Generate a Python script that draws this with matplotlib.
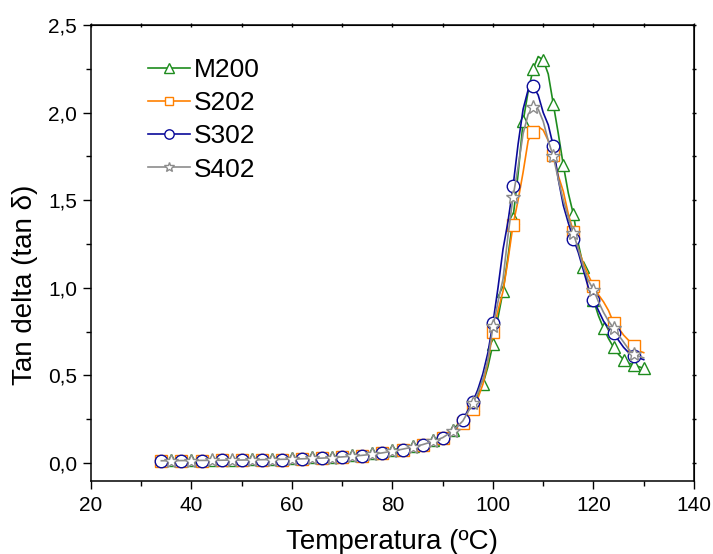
import matplotlib
matplotlib.use("Agg")
import matplotlib.pyplot as plt
from matplotlib.ticker import MultipleLocator, FuncFormatter

plt.rcParams['font.family'] = ['Liberation Sans', 'DejaVu Sans']

# temperature grid (ºC): 2 degree steps below 95, 1 degree steps above
temp = [34, 36, 38, 40, 42, 44, 46, 48, 50, 52, 54, 56, 58, 60, 62, 64,
        66, 68, 70, 72, 74, 76, 78, 80, 82, 84, 86, 88, 90, 92, 94,
        95, 96, 97, 98, 99, 100, 101, 102, 103, 104, 105, 106, 107, 108,
        109, 110, 111, 112, 113, 114, 115, 116, 117, 118, 119, 120, 121,
        122, 123, 124, 125, 126, 127, 128, 129, 130]

m200 = [0.015, 0.016, 0.016, 0.017, 0.017, 0.018, 0.019, 0.020, 0.021, 0.022,
        0.023, 0.025, 0.026, 0.028, 0.030, 0.032, 0.034, 0.036, 0.040, 0.043,
        0.048, 0.055, 0.064, 0.075, 0.086, 0.098, 0.112, 0.130, 0.155, 0.190,
        0.250,
        0.29, 0.33, 0.39, 0.45, 0.55, 0.68, 0.83, 0.98, 1.18, 1.40, 1.65,
        1.95, 2.12, 2.25, 2.32, 2.30, 2.22, 2.05, 1.88, 1.70, 1.54, 1.42,
        1.25, 1.12, 1.02, 0.93, 0.84, 0.77, 0.71, 0.66, 0.62, 0.59, 0.57,
        0.56, 0.55, 0.54]

s202 = [0.012, 0.012, 0.013, 0.013, 0.014, 0.014, 0.015, 0.016, 0.016, 0.017,
        0.018, 0.019, 0.020, 0.021, 0.023, 0.025, 0.027, 0.029, 0.033, 0.037,
        0.042, 0.048, 0.056, 0.066, 0.077, 0.089, 0.103, 0.120, 0.140, 0.175,
        0.230,
        0.27, 0.31, 0.37, 0.45, 0.58, 0.75, 0.87, 0.98, 1.16, 1.36, 1.50,
        1.66, 1.84, 1.89, 1.92, 1.90, 1.84, 1.76, 1.64, 1.55, 1.42, 1.32,
        1.22, 1.14, 1.07, 1.01, 0.96, 0.92, 0.87, 0.80, 0.77, 0.73, 0.70,
        0.67, 0.64, 0.63]

s302 = [0.012, 0.012, 0.013, 0.013, 0.014, 0.014, 0.015, 0.016, 0.016, 0.017,
        0.018, 0.019, 0.020, 0.021, 0.023, 0.025, 0.027, 0.029, 0.033, 0.037,
        0.042, 0.048, 0.056, 0.066, 0.077, 0.089, 0.103, 0.120, 0.142, 0.180,
        0.245,
        0.30, 0.35, 0.42, 0.51, 0.63, 0.80, 1.00, 1.22, 1.38, 1.58, 1.82,
        2.02, 2.13, 2.15, 2.10, 2.00, 1.93, 1.81, 1.62, 1.47, 1.37, 1.28,
        1.20, 1.10, 1.00, 0.93, 0.87, 0.81, 0.77, 0.74, 0.70, 0.66, 0.63,
        0.61, 0.60, 0.59]

s402 = [0.013, 0.013, 0.014, 0.014, 0.015, 0.015, 0.016, 0.017, 0.017, 0.018,
        0.019, 0.020, 0.021, 0.022, 0.024, 0.026, 0.028, 0.031, 0.035, 0.039,
        0.044, 0.050, 0.058, 0.068, 0.079, 0.091, 0.105, 0.123, 0.145, 0.182,
        0.240,
        0.29, 0.34, 0.40, 0.48, 0.59, 0.78, 0.92, 1.05, 1.30, 1.52, 1.69,
        1.88, 1.99, 2.03, 2.02, 1.95, 1.84, 1.75, 1.62, 1.50, 1.40, 1.31,
        1.22, 1.12, 1.04, 0.99, 0.92, 0.86, 0.81, 0.77, 0.73, 0.69, 0.65,
        0.62, 0.61, 0.60]

labels = ["M200", "S202", "S302", "S402"]
series = [m200, s202, s302, s402]
colors = ["#1e8c1e", "#ff8000", "#0a0a9a", "#8c8c8c"]
markers = ["^", "s", "o", "*"]
msizes = [9, 8, 9, 10]
# marker pattern: (offset in low region, step in 1-degree region)
mark_cfg = [(1, 2), (0, 4), (0, 4), (1, 4)]

fig = plt.figure(figsize=(7.13, 5.54), dpi=100)
ax = fig.add_axes([0.1276, 0.1326, 0.8457, 0.8223])

n_low = sum(1 for t in temp if t < 95)
for y, lab, c, m, ms, (off, step) in zip(series, labels, colors, markers, msizes, mark_cfg):
    idx = [i for i in range(n_low) if i % 2 == off]
    idx += [i for i in range(n_low, len(temp)) if temp[i] >= 96 and (temp[i] - 96) % step == 0]
    ax.plot(temp, y, color=c, lw=1.2, marker=m, markersize=ms, markevery=idx,
            markerfacecolor="white", markeredgecolor=c, markeredgewidth=1.0,
            label=lab)

ax.set_xlim(20, 140)
ax.set_ylim(-0.1, 2.5)
ax.xaxis.set_major_locator(MultipleLocator(20))
ax.xaxis.set_minor_locator(MultipleLocator(10))
ax.yaxis.set_major_locator(MultipleLocator(0.5))
ax.yaxis.set_minor_locator(MultipleLocator(0.25))
ax.yaxis.set_major_formatter(FuncFormatter(lambda v, p: f"{v:.1f}".replace(".", ",")))

ax.tick_params(axis="both", which="major", direction="out", length=6, width=1,
               labelsize=15, pad=4)
ax.tick_params(axis="both", which="minor", direction="out", length=3.5, width=1)
ax.tick_params(axis="x", which="major", pad=5)
for s in ax.spines.values():
    s.set_linewidth(1.1)

# short ticks on top and right, no labels
top = ax.secondary_xaxis("top")
top.xaxis.set_major_locator(MultipleLocator(20))
top.xaxis.set_minor_locator(MultipleLocator(10))
top.tick_params(which="both", direction="inout", length=3, width=1, labeltop=False)
right = ax.secondary_yaxis("right")
right.yaxis.set_major_locator(MultipleLocator(0.5))
right.yaxis.set_minor_locator(MultipleLocator(0.25))
right.tick_params(which="both", direction="inout", length=3, width=1, labelright=False)

ax.set_xlabel("Temperatura (ºC)", fontsize=20, labelpad=10)
ax.set_ylabel("Tan delta (tan δ)", fontsize=20)
ax.yaxis.set_label_coords(-0.088, 0.43)

ax.legend(loc="upper left", bbox_to_anchor=(0.077, 0.951), frameon=False,
          fontsize=19, handlelength=1.6, handletextpad=0.15,
          labelspacing=0.35, markerscale=0.75, borderaxespad=0)

fig.savefig("out.png", dpi=100)
